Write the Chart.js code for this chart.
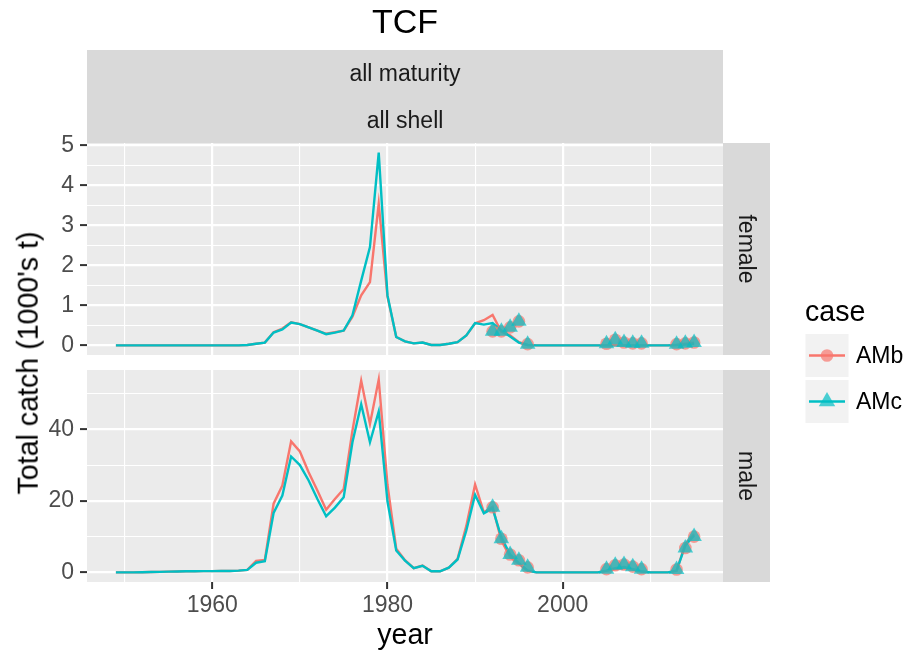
<!DOCTYPE html>
<html>
<head>
<meta charset="utf-8">
<script src="https://cdn.jsdelivr.net/npm/chart.js@4.4.0/dist/chart.umd.min.js"></script>
<style>
  html, body { margin: 0; padding: 0; background: #fff; }
  body { width: 907px; height: 653px; position: relative; overflow: hidden;
         font-family: "Liberation Sans", Arial, Helvetica, sans-serif; }
  canvas { position: absolute; left: 0; top: 0; }
  .txt { position: absolute; line-height: 1; white-space: nowrap; }
  .strip { position: absolute; background: #D9D9D9; }
  .stxt { font-size: 23px; color: #1A1A1A; }
</style>
</head>
<body>
<div class="strip" style="left:87px;top:50px;width:636px;height:93px"></div>
<div class="strip" style="left:723px;top:143px;width:47px;height:212px"></div>
<div class="strip" style="left:723px;top:370px;width:47px;height:212px"></div>

<canvas id="female" width="907" height="653"></canvas>
<canvas id="male" width="907" height="653"></canvas>

<div class="txt" style="left:405px;top:4px;font-size:34px;transform:translateX(-50%)">TCF</div>
<div class="txt stxt" style="left:405px;top:62px;transform:translateX(-50%)">all maturity</div>
<div class="txt stxt" style="left:405px;top:109px;transform:translateX(-50%)">all shell</div>
<div class="txt stxt" style="left:746px;top:249px;transform:translate(-50%,-50%) rotate(90deg)">female</div>
<div class="txt stxt" style="left:746px;top:476px;transform:translate(-50%,-50%) rotate(90deg)">male</div>
<div class="txt" style="left:28px;top:363px;font-size:28.6px;transform:translate(-50%,-50%) rotate(-90deg)">Total catch (1000's t)</div>
<div class="txt" style="left:405px;top:620px;font-size:28.6px;transform:translateX(-50%)">year</div>

<!-- legend -->
<div class="txt" style="left:805px;top:297px;font-size:28.6px">case</div>
<svg style="position:absolute;left:0;top:0" width="907" height="653">
  <rect x="805.5" y="334" width="43" height="43" fill="#F2F2F2"/>
  <rect x="805.5" y="380" width="43" height="43" fill="#F2F2F2"/>
  <line x1="809" y1="355.5" x2="845" y2="355.5" stroke="#F8766D" stroke-width="2.4"/>
  <circle cx="827" cy="355.5" r="6.3" fill="rgba(248,118,109,0.7)"/>
  <line x1="809" y1="401.5" x2="845" y2="401.5" stroke="#00BFC4" stroke-width="2.4"/>
  <polygon points="827,392 835.2,406.3 818.8,406.3" fill="rgba(0,191,196,0.7)"/>
</svg>
<div class="txt" style="left:856px;top:344px;font-size:23px">AMb</div>
<div class="txt" style="left:856px;top:390px;font-size:23px">AMc</div>

<script>
// ─── DATA ────────────────────────────────────────────────────────────────────
const YEARS = [1949,1950,1951,1952,1953,1954,1955,1956,1957,1958,1959,1960,1961,1962,1963,
  1964,1965,1966,1967,1968,1969,1970,1971,1972,1973,1974,1975,1976,1977,1978,1979,1980,
  1981,1982,1983,1984,1985,1986,1987,1988,1989,1990,1991,1992,1993,1994,1995,1996,
  1997,1998,1999,2000,2001,2002,2003,2004,2005,2006,2007,2008,2009,2010,2011,2012,
  2013,2014,2015];

// female, model fits
const FEMALE_AMB = [0,0,0,0,0,0,0,0,0,0,0,0,0,0,0,
  0.01,0.04,0.07,0.33,0.42,0.58,0.53,0.45,0.37,0.29,0.33,0.37,0.72,1.25,1.58,3.54,1.22,
  0.21,0.10,0.05,0.07,0.01,0.01,0.04,0.08,0.25,0.55,0.63,0.76,0.34,0.25,0.08,0.01,
  0,0,0,0,0,0,0,0,0,0,0,0,0,0,0,0,
  0.01,0.04,0.07];
const FEMALE_AMC = [0,0,0,0,0,0,0,0,0,0,0,0,0,0,0,
  0.01,0.04,0.07,0.32,0.40,0.57,0.53,0.45,0.37,0.28,0.32,0.37,0.75,1.62,2.46,4.82,1.25,
  0.21,0.10,0.05,0.07,0.01,0.01,0.04,0.08,0.25,0.56,0.52,0.56,0.37,0.22,0.07,0.01,
  0,0,0,0,0,0,0,0,0,0,0,0,0,0,0,0,
  0.01,0.02,0.04];

// male, model fits
const MALE_AMB = [0,0,0,0.05,0.1,0.15,0.2,0.25,0.3,0.3,0.35,0.35,0.4,0.4,0.5,
  0.7,3.2,3.5,19.2,24.3,36.6,33.8,28.0,22.9,17.5,20.5,23.3,39.6,53.6,41.5,53.9,24.5,
  6.6,3.4,1.2,1.9,0.3,0.3,1.3,3.8,13.0,24.6,16.8,18.3,8.9,4.3,2.4,0.5,
  0,0,0,0,0,0,0,0,0.4,0.9,1.2,0.8,0.2,0,0,0,
  0.4,8.0,10.7];
const MALE_AMC = [0,0,0,0.05,0.1,0.15,0.2,0.25,0.3,0.3,0.35,0.35,0.4,0.4,0.5,
  0.7,2.7,3.1,16.6,21.5,32.4,30.0,25.7,20.5,15.7,18.1,21.0,36.4,47.0,36.4,45.0,19.8,
  6.1,3.3,1.2,1.85,0.3,0.3,1.3,3.6,11.7,21.7,16.5,17.9,9.8,5.0,2.6,0.5,
  0,0,0,0,0,0,0,0,0.5,1.2,1.5,0.9,0.3,0,0,0,
  0.5,7.5,10.3];

// observed catches (same for both cases)
const OBS_YEARS = [1992,1993,1994,1995,1996,2005,2006,2007,2008,2009,2013,2014,2015];
const FEMALE_OBS = [0.35,0.35,0.45,0.60,0.03,0.04,0.14,0.07,0.05,0.05,0.03,0.05,0.07];
const MALE_OBS = [18.2,9.4,5.0,3.4,1.4,0.9,2.0,2.2,1.6,0.9,0.8,6.8,10.0];

// axes
const X_TICKS = [1950,1960,1970,1980,1990,2000,2010];
const X_MAJOR = [1960,1980,2000];
const X_RANGE = [1945.7, 2018.3];
const FEMALE_TICKS = [0,0.5,1,1.5,2,2.5,3,3.5,4,4.5,5];
const FEMALE_MAJOR = [0,1,2,3,4,5];
const FEMALE_RANGE = [-0.241, 5.061];
const MALE_TICKS = [0,10,20,30,40,50];
const MALE_MAJOR = [0,20,40];
const MALE_RANGE = [-2.695, 56.595];

// ─── STYLE ───────────────────────────────────────────────────────────────────
const RED = '#F8766D', TEAL = '#00BFC4';
const RED_A = 'rgba(248,118,109,0.7)', TEAL_A = 'rgba(0,191,196,0.7)';
const FONT = '"Liberation Sans", Arial, Helvetica, sans-serif';

const pts = (xs, ys) => xs.map((x, i) => ({ x, y: ys[i] }));
const isMaj = (c, list) => !!(c.tick && list.includes(c.tick.value));

const panelBg = {
  id: 'panelBg',
  beforeDraw(chart) {
    const { ctx, chartArea: a } = chart;
    ctx.save();
    ctx.fillStyle = '#EBEBEB';
    ctx.fillRect(a.left, a.top, a.right - a.left, a.bottom - a.top);
    ctx.restore();
  }
};

function gridOpts(major, showTicks) {
  return {
    color: '#FFFFFF',
    lineWidth: c => isMaj(c, major) ? 2.2 : 1.1,
    drawTicks: showTicks,
    tickLength: 7,
    tickWidth: 2,
    tickColor: c => isMaj(c, major) ? '#333333' : 'rgba(0,0,0,0)',
  };
}

function makePanel(id, amb, amc, obs, yTicks, yMajor, yRange, padding, showX) {
  return new Chart(document.getElementById(id), {
    type: 'line',
    data: { datasets: [
      { data: pts(OBS_YEARS, obs), showLine: false, pointStyle: 'triangle', pointRadius: 9,
        pointBackgroundColor: TEAL_A, pointBorderWidth: 0 },
      { data: pts(OBS_YEARS, obs), showLine: false, pointStyle: 'circle', pointRadius: 6.3,
        pointBackgroundColor: RED_A, pointBorderWidth: 0 },
      { data: pts(YEARS, amc), borderColor: TEAL, borderWidth: 2.4, pointRadius: 0, tension: 0 },
      { data: pts(YEARS, amb), borderColor: RED, borderWidth: 2.4, pointRadius: 0, tension: 0 },
    ]},
    options: {
      responsive: false, animation: false, events: [],
      layout: { padding },
      plugins: { legend: { display: false }, tooltip: { enabled: false } },
      scales: {
        x: {
          type: 'linear', min: X_RANGE[0], max: X_RANGE[1],
          afterBuildTicks: s => { s.ticks = X_TICKS.map(value => ({ value })); },
          afterFit: s => { s.height = showX ? 71 : 0; },
          border: { display: false },
          grid: gridOpts(X_MAJOR, showX),
          ticks: { display: showX, autoSkip: false, maxRotation: 0, padding: 3,
                   color: '#4D4D4D', font: { family: FONT, size: 23 },
                   callback: v => X_MAJOR.includes(v) ? String(v) : '' },
        },
        y: {
          type: 'linear', min: yRange[0], max: yRange[1],
          afterBuildTicks: s => { s.ticks = yTicks.map(value => ({ value })); },
          afterFit: s => { s.width = 87; },
          border: { display: false },
          grid: gridOpts(yMajor, true),
          ticks: { autoSkip: false, padding: 6, color: '#4D4D4D', font: { family: FONT, size: 23 },
                   callback: v => yMajor.includes(v) ? String(v) : '' },
        },
      },
    },
    plugins: [panelBg],
  });
}

makePanel('female', FEMALE_AMB, FEMALE_AMC, FEMALE_OBS, FEMALE_TICKS, FEMALE_MAJOR, FEMALE_RANGE,
  { left: 0, top: 143, right: 184, bottom: 298 }, false);
makePanel('male', MALE_AMB, MALE_AMC, MALE_OBS, MALE_TICKS, MALE_MAJOR, MALE_RANGE,
  { left: 0, top: 370, right: 184, bottom: 0 }, true);
</script>
</body>
</html>
